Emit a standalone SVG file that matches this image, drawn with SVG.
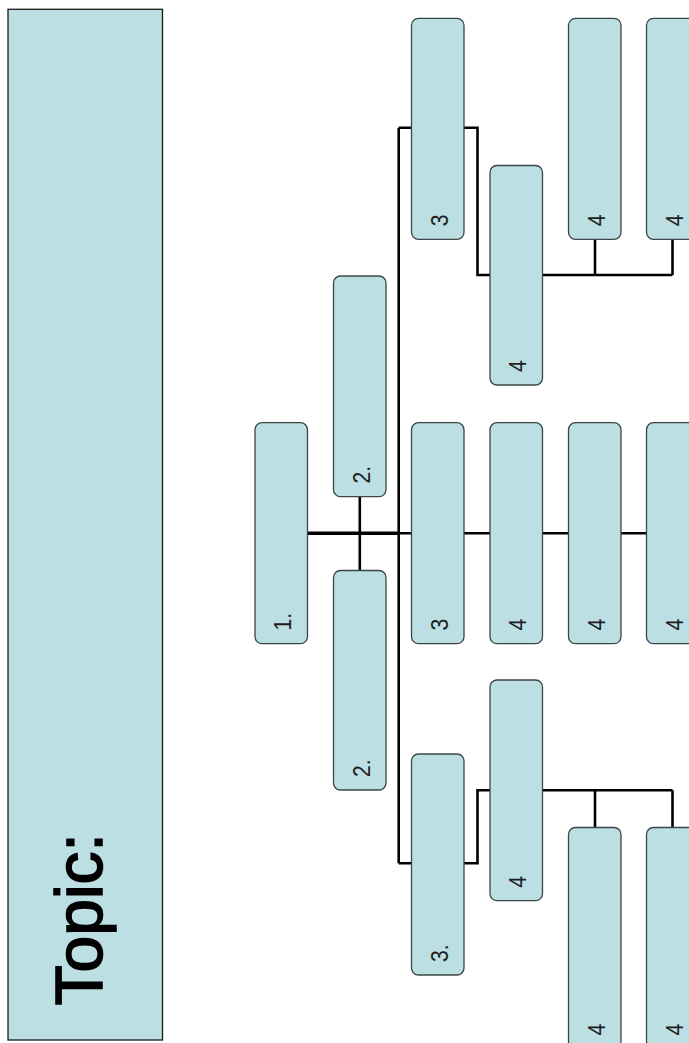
<svg xmlns="http://www.w3.org/2000/svg" width="689" height="1043" viewBox="0 0 689 1043">
<style>
.bg{fill:#ffffff}
.topic{fill:#BBDFE3;stroke:#1a1a1a;stroke-width:1.3}
.box{fill:#BBDFE3;stroke:#3b4646;stroke-width:1.3}
.lbl{font-family:"Liberation Sans",Arial,sans-serif;font-size:24px;fill:#1e1e1e}
.ttl{font-family:"Liberation Sans",Arial,sans-serif;font-size:66px;fill:#000;stroke:#000;stroke-width:1.6}
.con{fill:none;stroke:#000;stroke-width:2.6;stroke-linejoin:miter}
</style>
<rect class="bg" x="0" y="0" width="689" height="1043"/>
<g id="topic">
<rect class="topic" x="8" y="9.3" width="154.5" height="1030.7"/>
<text class="ttl" transform="translate(101.5,1005.5) rotate(-90)">Topic:</text>
</g>
<g id="connectors">
<path class="con" style="stroke-width:3.4" d="M307.7,533.3 H399"/>
<path class="con" d="M399,533.3 H660"/>
<path class="con" d="M359.8,496.7 V570.5"/>
<path class="con" d="M398.7,127.7 V863.3"/>
<path class="con" d="M398.7,127.7 H477.5 V275 H672.5 M595,239.3 V275 M672.5,239.3 V275"/>
<path class="con" d="M398.7,863.3 H477.5 V790.3 H672.5 M595,790.3 V827.5 M672.5,790.3 V827.5"/>
</g>
<g id="n1"><rect class="box" x="255" y="422.7" width="52.5" height="221" rx="7"/><text class="lbl" transform="translate(291,630.5) rotate(-90) scale(0.88,1)">1.</text></g>
<g id="n2a"><rect class="box" x="333.5" y="276" width="52.5" height="220.7" rx="7"/><text class="lbl" transform="translate(369.5,483.5) rotate(-90) scale(0.88,1)">2.</text></g>
<g id="n2b"><rect class="box" x="333.5" y="570.5" width="52.5" height="219.5" rx="7"/><text class="lbl" transform="translate(369.5,777) rotate(-90) scale(0.88,1)">2.</text></g>
<g id="n3a"><rect class="box" x="411.5" y="18.3" width="52.5" height="221" rx="7"/><text class="lbl" transform="translate(447.5,226.3) rotate(-90) scale(0.88,1)">3</text></g>
<g id="n3b"><rect class="box" x="411.5" y="422.7" width="52.5" height="221" rx="7"/><text class="lbl" transform="translate(447.5,630.5) rotate(-90) scale(0.88,1)">3</text></g>
<g id="n3c"><rect class="box" x="411.5" y="754" width="52.5" height="221" rx="7"/><text class="lbl" transform="translate(447.5,962) rotate(-90) scale(0.88,1)">3.</text></g>
<g id="n4a"><rect class="box" x="490" y="165.5" width="52.5" height="219.5" rx="7"/><text class="lbl" transform="translate(526,372) rotate(-90) scale(0.88,1)">4</text></g>
<g id="n4b"><rect class="box" x="568.5" y="18.3" width="52.5" height="221" rx="7"/><text class="lbl" transform="translate(604.5,226.3) rotate(-90) scale(0.88,1)">4</text></g>
<g id="n4c"><rect class="box" x="646.5" y="18.3" width="52.5" height="221" rx="7"/><text class="lbl" transform="translate(682.5,226.3) rotate(-90) scale(0.88,1)">4</text></g>
<g id="n4d"><rect class="box" x="490" y="422.7" width="52.5" height="221" rx="7"/><text class="lbl" transform="translate(526,630.5) rotate(-90) scale(0.88,1)">4</text></g>
<g id="n4e"><rect class="box" x="568.5" y="422.7" width="52.5" height="221" rx="7"/><text class="lbl" transform="translate(604.5,630.5) rotate(-90) scale(0.88,1)">4</text></g>
<g id="n4f"><rect class="box" x="646.5" y="422.7" width="52.5" height="221" rx="7"/><text class="lbl" transform="translate(682.5,630.5) rotate(-90) scale(0.88,1)">4</text></g>
<g id="n4g"><rect class="box" x="490" y="680" width="52.5" height="220.7" rx="7"/><text class="lbl" transform="translate(526,887.7) rotate(-90) scale(0.88,1)">4</text></g>
<g id="n4h"><rect class="box" x="568.5" y="827.5" width="52.5" height="221" rx="7"/><text class="lbl" transform="translate(604.5,1035.5) rotate(-90) scale(0.88,1)">4</text></g>
<g id="n4i"><rect class="box" x="646.5" y="827.5" width="52.5" height="221" rx="7"/><text class="lbl" transform="translate(682.5,1035.5) rotate(-90) scale(0.88,1)">4</text></g>
</svg>
